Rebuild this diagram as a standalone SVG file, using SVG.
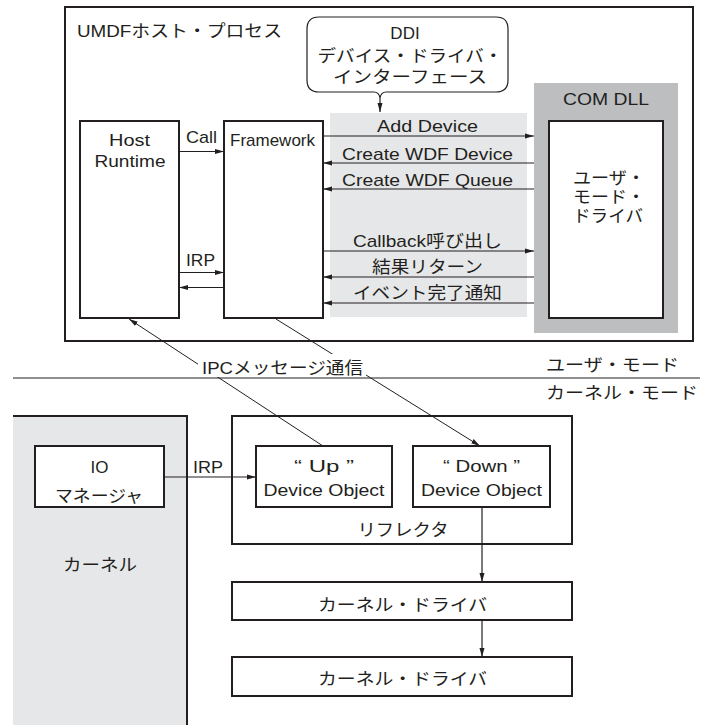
<svg xmlns="http://www.w3.org/2000/svg" width="707" height="725" viewBox="0 0 707 725">
<defs>
<marker id="ah" markerWidth="10" markerHeight="8" refX="9" refY="4" orient="auto" markerUnits="userSpaceOnUse">
<path d="M0,1.5 L9,4 L0,6.5 Z" fill="#231f20"/>
</marker>
<style>
.box{fill:#fff;stroke:#231f20;stroke-width:2}
.t{font-family:"Liberation Sans","Noto Sans CJK JP",sans-serif;font-size:17px;fill:#231f20}
.m{text-anchor:middle}
.ln{stroke:#231f20;stroke-width:1.2;fill:none}
.thin{stroke:#231f20;stroke-width:1;fill:none}
.ar{marker-end:url(#ah)}
</style>
</defs>
<rect width="707" height="725" fill="#fff"/>

<g id="umdf-host-process">
<rect class="box" x="65" y="7" width="628" height="334"/>
<text class="t" x="77" y="37" textLength="205" lengthAdjust="spacingAndGlyphs">UMDFホスト・プロセス</text>
</g>

<g id="ddi-area">
<rect x="330" y="113" width="197" height="204" fill="#e6e7e8"/>
</g>

<g id="ddi">
<path d="M319,17 H496 Q508,17 508,29 V80 Q508,92 496,92 H386 Q381,92 380,98 Q379,92 374,92 H319 Q307,92 307,80 V29 Q307,17 319,17 Z" fill="#fff" stroke="#231f20" stroke-width="1.2"/>
<text class="t m" x="405" y="39">DDI</text>
<text class="t m" x="410" y="62" textLength="185" lengthAdjust="spacingAndGlyphs">デバイス・ドライバ・</text>
<text class="t m" x="410" y="83" textLength="154" lengthAdjust="spacingAndGlyphs">インターフェース</text>
</g>

<g id="com-dll">
<rect x="534" y="83" width="144" height="250" fill="#bcbec0"/>
<text class="t m" x="606" y="105" textLength="86" lengthAdjust="spacingAndGlyphs">COM DLL</text>
</g>

<g id="user-mode-driver">
<rect class="box" x="549" y="121" width="114" height="197"/>
<text class="t" x="573" y="184" textLength="72" lengthAdjust="spacingAndGlyphs">ユーザ・</text>
<text class="t" x="573" y="203" textLength="72" lengthAdjust="spacingAndGlyphs">モード・</text>
<text class="t" x="573" y="222" textLength="70" lengthAdjust="spacingAndGlyphs">ドライバ</text>
</g>

<g id="host-runtime">
<rect class="box" x="80" y="121" width="99" height="197"/>
<text class="t m" x="129.5" y="146" textLength="41" lengthAdjust="spacingAndGlyphs">Host</text>
<text class="t m" x="130" y="167" textLength="71" lengthAdjust="spacingAndGlyphs">Runtime</text>
</g>

<g id="framework">
<rect class="box" x="224" y="121" width="99" height="197"/>
<text class="t" x="230" y="146" textLength="85" lengthAdjust="spacingAndGlyphs">Framework</text>
</g>

<g id="kernel">
<path d="M13,416 H187 V725 H13 Z" fill="#e6e7e8"/>
<path d="M13,416 H187 V725" fill="none" stroke="#231f20" stroke-width="2"/>
<text class="t m" x="100" y="571" textLength="74" lengthAdjust="spacingAndGlyphs">カーネル</text>
</g>

<g id="io-manager">
<rect class="box" x="35" y="446" width="129" height="61"/>
<text class="t m" x="99.5" y="473">IO</text>
<text class="t m" x="99" y="502" textLength="88" lengthAdjust="spacingAndGlyphs">マネージャ</text>
</g>

<g id="reflector">
<rect class="box" x="232" y="416" width="340" height="128"/>
<text class="t m" x="403" y="536" textLength="91" lengthAdjust="spacingAndGlyphs">リフレクタ</text>
</g>

<g id="up-device-object">
<rect class="box" x="256" y="446" width="136" height="61"/>
<text class="t m" x="324" y="472" textLength="60" lengthAdjust="spacingAndGlyphs">“ Up ”</text>
<text class="t m" x="324" y="496" textLength="121" lengthAdjust="spacingAndGlyphs">Device Object</text>
</g>

<g id="down-device-object">
<rect class="box" x="413" y="446" width="137" height="61"/>
<text class="t m" x="481.5" y="472" textLength="77" lengthAdjust="spacingAndGlyphs">“ Down ”</text>
<text class="t m" x="481.5" y="496" textLength="121" lengthAdjust="spacingAndGlyphs">Device Object</text>
</g>

<g id="kernel-driver-1">
<rect class="box" x="232" y="582" width="340" height="38"/>
<text class="t m" x="402.5" y="611" textLength="169" lengthAdjust="spacingAndGlyphs">カーネル・ドライバ</text>
</g>

<g id="kernel-driver-2">
<rect class="box" x="232" y="657" width="340" height="39"/>
<text class="t m" x="402.5" y="685" textLength="169" lengthAdjust="spacingAndGlyphs">カーネル・ドライバ</text>
</g>

<g id="mode-boundary">
<line x1="13" y1="378" x2="700" y2="378" stroke="#231f20" stroke-width="1.2"/>
<text class="t" x="546" y="371" textLength="133" lengthAdjust="spacingAndGlyphs">ユーザ・モード</text>
<text class="t" x="546" y="399" textLength="152" lengthAdjust="spacingAndGlyphs">カーネル・モード</text>
</g>

<g id="connectors">
<line class="ln ar" x1="380" y1="98" x2="380" y2="112"/>
<line class="ln ar" x1="179" y1="151.5" x2="224" y2="151.5"/>
<line class="ln ar" x1="179" y1="272.5" x2="224" y2="272.5"/>
<line class="ln ar" x1="224" y1="287.5" x2="179" y2="287.5"/>
<line class="ln ar" x1="323" y1="136" x2="534" y2="136"/>
<line class="ln ar" x1="534" y1="163" x2="323" y2="163"/>
<line class="ln ar" x1="534" y1="189" x2="323" y2="189"/>
<line class="ln ar" x1="323" y1="251" x2="534" y2="251"/>
<line class="ln ar" x1="534" y1="277" x2="323" y2="277"/>
<line class="ln ar" x1="534" y1="303" x2="323" y2="303"/>
<line class="thin ar" x1="323" y1="446" x2="129" y2="319"/>
<line class="thin ar" x1="276" y1="319" x2="480" y2="446"/>
<line class="ln ar" x1="164" y1="477" x2="256" y2="477"/>
<line class="ln ar" x1="482" y1="507" x2="482" y2="582"/>
<line class="ln ar" x1="482" y1="620" x2="482" y2="657"/>
</g>

<g id="connector-labels">
<text class="t" x="186" y="143" textLength="31" lengthAdjust="spacingAndGlyphs">Call</text>
<text class="t" x="186" y="266" textLength="29" lengthAdjust="spacingAndGlyphs">IRP</text>
<text class="t m" x="427.5" y="132" textLength="101" lengthAdjust="spacingAndGlyphs">Add Device</text>
<text class="t m" x="427.5" y="159.5" textLength="171" lengthAdjust="spacingAndGlyphs">Create WDF Device</text>
<text class="t m" x="427.5" y="185.5" textLength="171" lengthAdjust="spacingAndGlyphs">Create WDF Queue</text>
<text class="t m" x="427.5" y="246.5" textLength="149" lengthAdjust="spacingAndGlyphs">Callback呼び出し</text>
<text class="t m" x="427.5" y="272.5" textLength="111" lengthAdjust="spacingAndGlyphs">結果リターン</text>
<text class="t m" x="427.5" y="298.5" textLength="149" lengthAdjust="spacingAndGlyphs">イベント完了通知</text>
<rect x="198" y="354" width="168" height="23" fill="#fff"/>
<text class="t" x="202" y="374" textLength="161" lengthAdjust="spacingAndGlyphs">IPCメッセージ通信</text>
<text class="t" x="193" y="473" textLength="30" lengthAdjust="spacingAndGlyphs">IRP</text>
</g>
</svg>
